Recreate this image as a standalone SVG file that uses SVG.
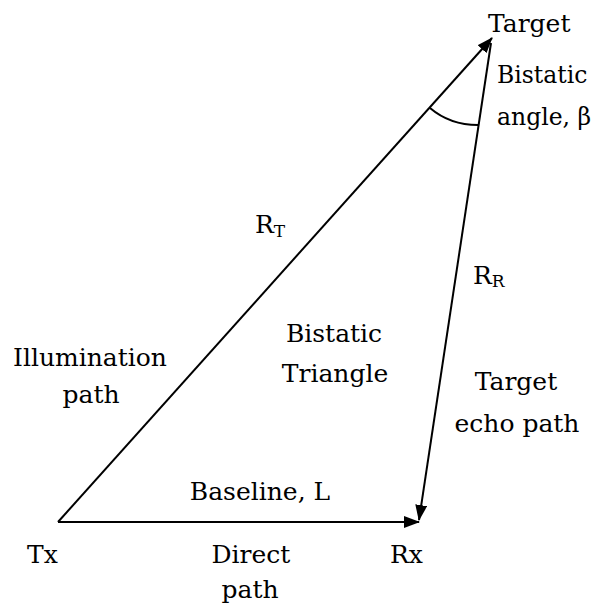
<svg xmlns="http://www.w3.org/2000/svg" width="598" height="608" viewBox="0 0 598 608">
<style>
text{font-family:'DejaVu Serif','Liberation Serif',serif;font-size:25px;fill:#000}
.c{text-anchor:middle}
.s{font-size:17px}
.sm{font-size:23.5px}
.ln{stroke:#000;stroke-width:2;fill:none}
</style>
<defs>
<marker id="ah" viewBox="0 0 16 12" refX="15" refY="6" markerWidth="16" markerHeight="12" markerUnits="userSpaceOnUse" orient="auto">
<path d="M0,0 L16,6 L0,12 z" fill="#000"/>
</marker>
</defs>
<rect width="598" height="608" fill="#fff"/>
<g id="connectors">
<line class="ln" x1="58" y1="522" x2="492" y2="38" marker-end="url(#ah)"/>
<line class="ln" x1="491" y1="43" x2="419" y2="520" marker-end="url(#ah)"/>
<line class="ln" x1="58" y1="522" x2="419" y2="522" marker-end="url(#ah)"/>
<path class="ln" d="M430,108 Q450,125 478,125" stroke-width="1.5"/>
</g>
<g id="target"><text x="488" y="32">Target</text></g>
<g id="bistatic-angle"><text class="sm" x="497" y="83">Bistatic</text><text class="sm" x="497" y="125">angle, β</text></g>
<g id="rt"><text x="255" y="233">R<tspan class="s" dy="4">T</tspan></text></g>
<g id="rr"><text x="473" y="284">R<tspan class="s" dy="3">R</tspan></text></g>
<g id="triangle"><text class="c" x="334" y="342">Bistatic</text><text class="c" x="335" y="382">Triangle</text></g>
<g id="illumination"><text class="c" x="90" y="366">Illumination</text><text class="c" x="91" y="403">path</text></g>
<g id="echo"><text class="c" x="516" y="390">Target</text><text class="c" x="517" y="432">echo path</text></g>
<g id="baseline"><text class="c" x="260" y="500">Baseline, L</text></g>
<g id="tx"><text x="27" y="563">Tx</text></g>
<g id="direct"><text class="c" x="251" y="563">Direct</text><text class="c" x="250" y="598">path</text></g>
<g id="rx"><text x="390" y="563">Rx</text></g>
</svg>
